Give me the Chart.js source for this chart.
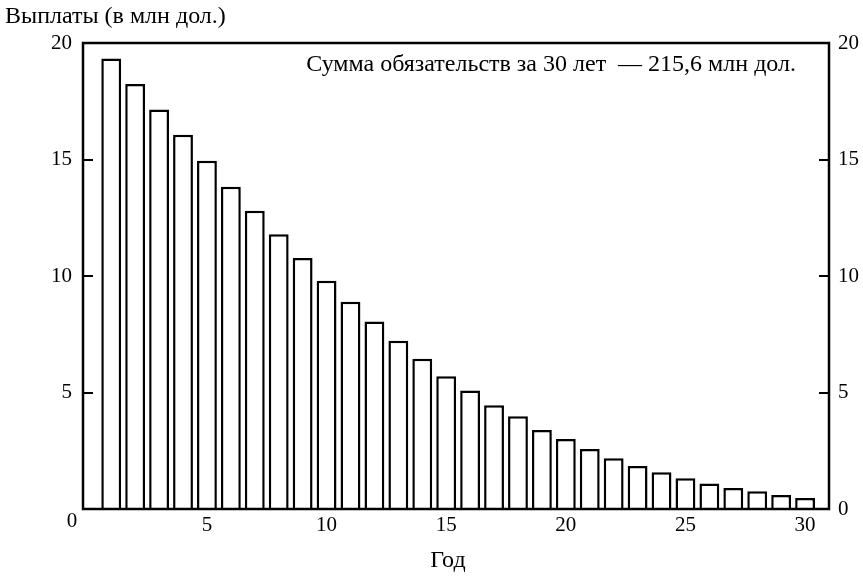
<!DOCTYPE html>
<html>
<head>
<meta charset="utf-8">
<script src="https://cdn.jsdelivr.net/npm/chart.js@4"></script>
<style>
html,body{margin:0;padding:0;background:#fff;}
#wrap{width:863px;height:576px;position:relative;}
</style>
</head>
<body>
<div id="wrap"><canvas id="c"></canvas></div>
<script>
const years = [1,2,3,4,5,6,7,8,9,10,11,12,13,14,15,16,17,18,19,20,21,22,23,24,25,26,27,28,29,30];
const payments = [19.34,18.24,17.15,16.06,14.95,13.83,12.8,11.79,10.77,9.8,8.9,8.05,7.22,6.45,5.7,5.09,4.45,3.98,3.39,3.0,2.58,2.18,1.85,1.58,1.32,1.09,0.9,0.76,0.6,0.47];
const xTicks = [5,10,15,20,25,30];
const yTicks = [0,5,10,15,20];
const yTitle = 'Выплаты (в млн дол.)';
const xTitle = 'Год';
const note = 'Сумма обязательств за 30 лет  — 215,6 млн дол.';
const cornerLabel = '0';

const FONT = 'Liberation Serif, Times New Roman, serif';
const TXT = 24;
const TICK = 21;

const deco = {
  id: 'deco',
  afterDraw(chart) {
    const ctx = chart.ctx;
    const a = chart.chartArea;
    const y = chart.scales.y;
    ctx.save();
    ctx.strokeStyle = '#000';
    ctx.lineWidth = 2.5;
    ctx.strokeRect(a.left, a.top, a.right - a.left, a.bottom - a.top);
    ctx.lineWidth = 2;
    ctx.beginPath();
    yTicks.forEach(v => {
      if (v === 0 || v === 20) return;
      const py = Math.round(y.getPixelForValue(v));
      ctx.moveTo(a.left, py); ctx.lineTo(a.left + 10, py);
      ctx.moveTo(a.right, py); ctx.lineTo(a.right - 10, py);
    });
    ctx.stroke();
    ctx.fillStyle = '#000';
    ctx.font = TXT + 'px ' + FONT;
    ctx.textBaseline = 'middle';
    ctx.textAlign = 'left';
    ctx.fillText(yTitle, 5, 17);
    ctx.textAlign = 'right';
    ctx.fillText(note, a.right - 33, 65);
    ctx.textAlign = 'center';
    ctx.fillText(xTitle, 448, 561);
    ctx.font = TICK + 'px ' + FONT;
    ctx.fillText(cornerLabel, a.left - 11, 521);
    ctx.restore();
  }
};

new Chart(document.getElementById('c'), {
  type: 'bar',
  data: {
    datasets: [{
      data: years.map((x, i) => ({x: x, y: payments[i]})),
      backgroundColor: '#fff',
      borderColor: '#000',
      borderWidth: 2.5,
      barPercentage: 0.83,
      categoryPercentage: 1
    }]
  },
  options: {
    responsive: true,
    maintainAspectRatio: false,
    animation: false,
    layout: {padding: {top: 43, left: 0, right: 0, bottom: 0}},
    plugins: {legend: {display: false}, tooltip: {enabled: false}},
    scales: {
      x: {
        type: 'linear',
        position: 'bottom',
        offset: false,
        min: -0.18,
        max: 31.0,
        afterBuildTicks: s => { s.ticks = xTicks.map(v => ({value: v})); },
        afterFit: s => { s.height = 67; },
        grid: {drawOnChartArea: false, drawTicks: false, offset: false},
        border: {display: true, color: '#000', width: 2},
        ticks: {color: '#000', font: {family: FONT, size: TICK}, padding: 4, maxRotation: 0, autoSkip: false}
      },
      y: {
        position: 'left',
        min: 0, max: 20,
        afterBuildTicks: s => { s.ticks = yTicks.map(v => ({value: v})); },
        afterFit: s => { s.width = 83; },
        grid: {drawOnChartArea: false, drawTicks: false},
        border: {display: true, color: '#000', width: 2},
        ticks: {color: '#000', font: {family: FONT, size: TICK}, padding: 11, callback: v => v === 0 ? '' : String(v)}
      },
      y2: {
        position: 'right',
        min: 0, max: 20,
        afterBuildTicks: s => { s.ticks = yTicks.map(v => ({value: v})); },
        afterFit: s => { s.width = 34; },
        grid: {drawOnChartArea: false, drawTicks: false},
        border: {display: true, color: '#000', width: 2},
        ticks: {color: '#000', font: {family: FONT, size: TICK}, padding: 9, callback: v => String(v)}
      }
    }
  },
  plugins: [deco]
});
</script>
</body>
</html>
